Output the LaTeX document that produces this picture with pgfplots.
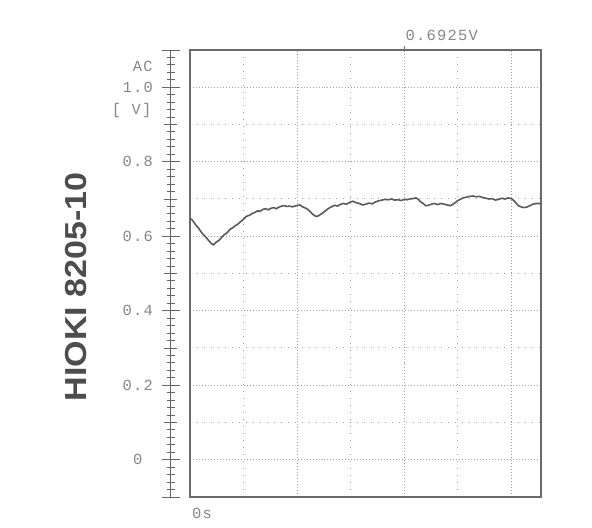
\documentclass[border=0pt]{standalone}
\usepackage{fontspec}
\setmainfont{Liberation Sans}
\newfontfamily\lcd[LetterSpace=8]{Liberation Mono}
\usepackage{pgfplots}
\pgfplotsset{compat=1.18}
\definecolor{lcdgray}{HTML}{878787}
\definecolor{gridgray}{HTML}{A0A0A0}
\definecolor{boxgray}{HTML}{6A6A6A}
\definecolor{tracegray}{HTML}{5A5A5A}
\definecolor{rulergray}{HTML}{666666}
\definecolor{brandgray}{HTML}{4D4D4D}

\pgfplotstableread{
x y
0.00 0.648
0.04 0.644
0.08 0.636
0.12 0.628
0.16 0.622
0.20 0.613
0.25 0.604
0.30 0.597
0.35 0.588
0.40 0.580
0.44 0.577
0.48 0.583
0.53 0.588
0.58 0.595
0.63 0.603
0.68 0.608
0.72 0.614
0.76 0.620
0.80 0.623
0.84 0.628
0.88 0.631
0.92 0.636
0.96 0.641
1.00 0.646
1.04 0.652
1.08 0.655
1.12 0.657
1.16 0.661
1.21 0.664
1.26 0.668
1.31 0.667
1.36 0.672
1.41 0.674
1.46 0.671
1.51 0.675
1.56 0.677
1.61 0.674
1.66 0.678
1.71 0.681
1.76 0.682
1.81 0.680
1.86 0.681
1.91 0.679
1.96 0.681
2.01 0.683
2.05 0.684
2.10 0.679
2.15 0.676
2.20 0.672
2.25 0.665
2.30 0.658
2.35 0.653
2.40 0.655
2.45 0.660
2.50 0.665
2.55 0.671
2.60 0.676
2.65 0.680
2.70 0.683
2.75 0.681
2.80 0.685
2.86 0.688
2.92 0.686
2.98 0.691
3.04 0.694
3.10 0.690
3.16 0.688
3.22 0.684
3.28 0.686
3.34 0.689
3.40 0.687
3.46 0.692
3.52 0.695
3.58 0.697
3.64 0.699
3.70 0.698
3.76 0.700
3.82 0.697
3.88 0.698
3.94 0.696
4.00 0.699
4.05 0.698
4.10 0.700
4.16 0.701
4.22 0.703
4.26 0.699
4.30 0.693
4.35 0.688
4.40 0.682
4.45 0.683
4.50 0.686
4.56 0.688
4.62 0.685
4.68 0.688
4.74 0.686
4.80 0.684
4.86 0.682
4.92 0.687
4.98 0.694
5.04 0.699
5.10 0.703
5.16 0.705
5.22 0.707
5.28 0.708
5.34 0.706
5.40 0.707
5.46 0.704
5.52 0.702
5.58 0.700
5.64 0.701
5.70 0.697
5.76 0.699
5.82 0.702
5.88 0.700
5.94 0.703
6.00 0.701
6.04 0.696
6.08 0.690
6.12 0.683
6.16 0.680
6.22 0.677
6.28 0.678
6.34 0.682
6.40 0.686
6.46 0.688
6.55 0.688
}\tracedata

\begin{document}
\begin{tikzpicture}
\path[use as bounding box] (0,0) rectangle (592bp,528bp);

% brand label, rotated
\node[rotate=90, text=brandgray, font=\bfseries\fontsize{30.5}{32}\selectfont]
  at (76bp,241bp) {\scalebox{1.12}[1]{HIOKI 8205-10}};

% the screen: box, dotted grid and trace
\begin{axis}[
  at={(190bp,31bp)}, anchor=south west,
  scale only axis,
  width=351bp, height=447bp,
  xmin=0, xmax=6.55,
  ymin=-0.1, ymax=1.1,
  xtick={2,4,6}, minor xtick={1,3,5},
  ytick={0,0.2,0.4,0.6,0.8,1.0}, minor ytick={0.1,0.3,0.5,0.7,0.9},
  xticklabels={}, yticklabels={},
  major tick length=0pt, minor tick length=0pt,
  grid=both,
  major grid style={gridgray, line width=1pt, dash pattern=on 1pt off 2pt},
  minor grid style={gridgray, line width=1pt, dash pattern=on 1pt off 6pt},
  axis line style={boxgray, line width=1.3pt},
  clip=false,
]
\addplot[tracegray, line width=1.6pt] table[x=x, y=y] {\tracedata};
% cursor marker and its reading
\draw[boxgray, line width=1pt] (axis cs:4,1.1) -- ([yshift=3.5bp]axis cs:4,1.1);
\node[anchor=base west, font=\lcd\fontsize{15.5}{16}\selectfont, text=lcdgray, inner sep=0pt]
  at ([xshift=1bp, yshift=9bp]axis cs:4,1.1) {0.6925V};
\node[anchor=center, font=\lcd\fontsize{15.5}{16}\selectfont, text=lcdgray, inner sep=0pt]
  at ([xshift=12bp, yshift=-16bp]rel axis cs:0,0) {0s};
\end{axis}

% the voltage ruler on the left
\begin{axis}[
  at={(170.7bp,31bp)}, anchor=south west,
  scale only axis,
  width=20bp, height=447bp,
  xmin=0, xmax=1,
  ymin=-0.1, ymax=1.1,
  hide x axis,
  axis y line*=left,
  y axis line style={rulergray, line width=1.1pt},
  ytick={-0.1,0,0.2,0.4,0.6,0.8,1.0,1.1},
  yticklabels={,0,0.2,0.4,0.6,0.8,1.0,},
  minor ytick={-0.08,-0.06,...,1.09},
  extra y ticks={0.1,0.3,0.5,0.7,0.9},
  extra y tick labels={},
  extra y tick style={major tick length=13bp},
  tick align=center,
  major tick length=18bp, minor tick length=8bp,
  tick style={rulergray, line width=0.9pt},
  yticklabel style={font=\lcd\fontsize{15.5}{16}\selectfont, text=lcdgray, anchor=center, xshift=-24bp},
  clip=false,
]
\node[anchor=center, font=\lcd\fontsize{15.5}{16}\selectfont, text=lcdgray]
  at ([xshift=-28bp]axis cs:0,1.055) {AC};
\node[anchor=center, font=\lcd\fontsize{15.5}{16}\selectfont, text=lcdgray]
  at ([xshift=-39bp]axis cs:0,0.937) {[ V]};
\end{axis}
\end{tikzpicture}
\end{document}
